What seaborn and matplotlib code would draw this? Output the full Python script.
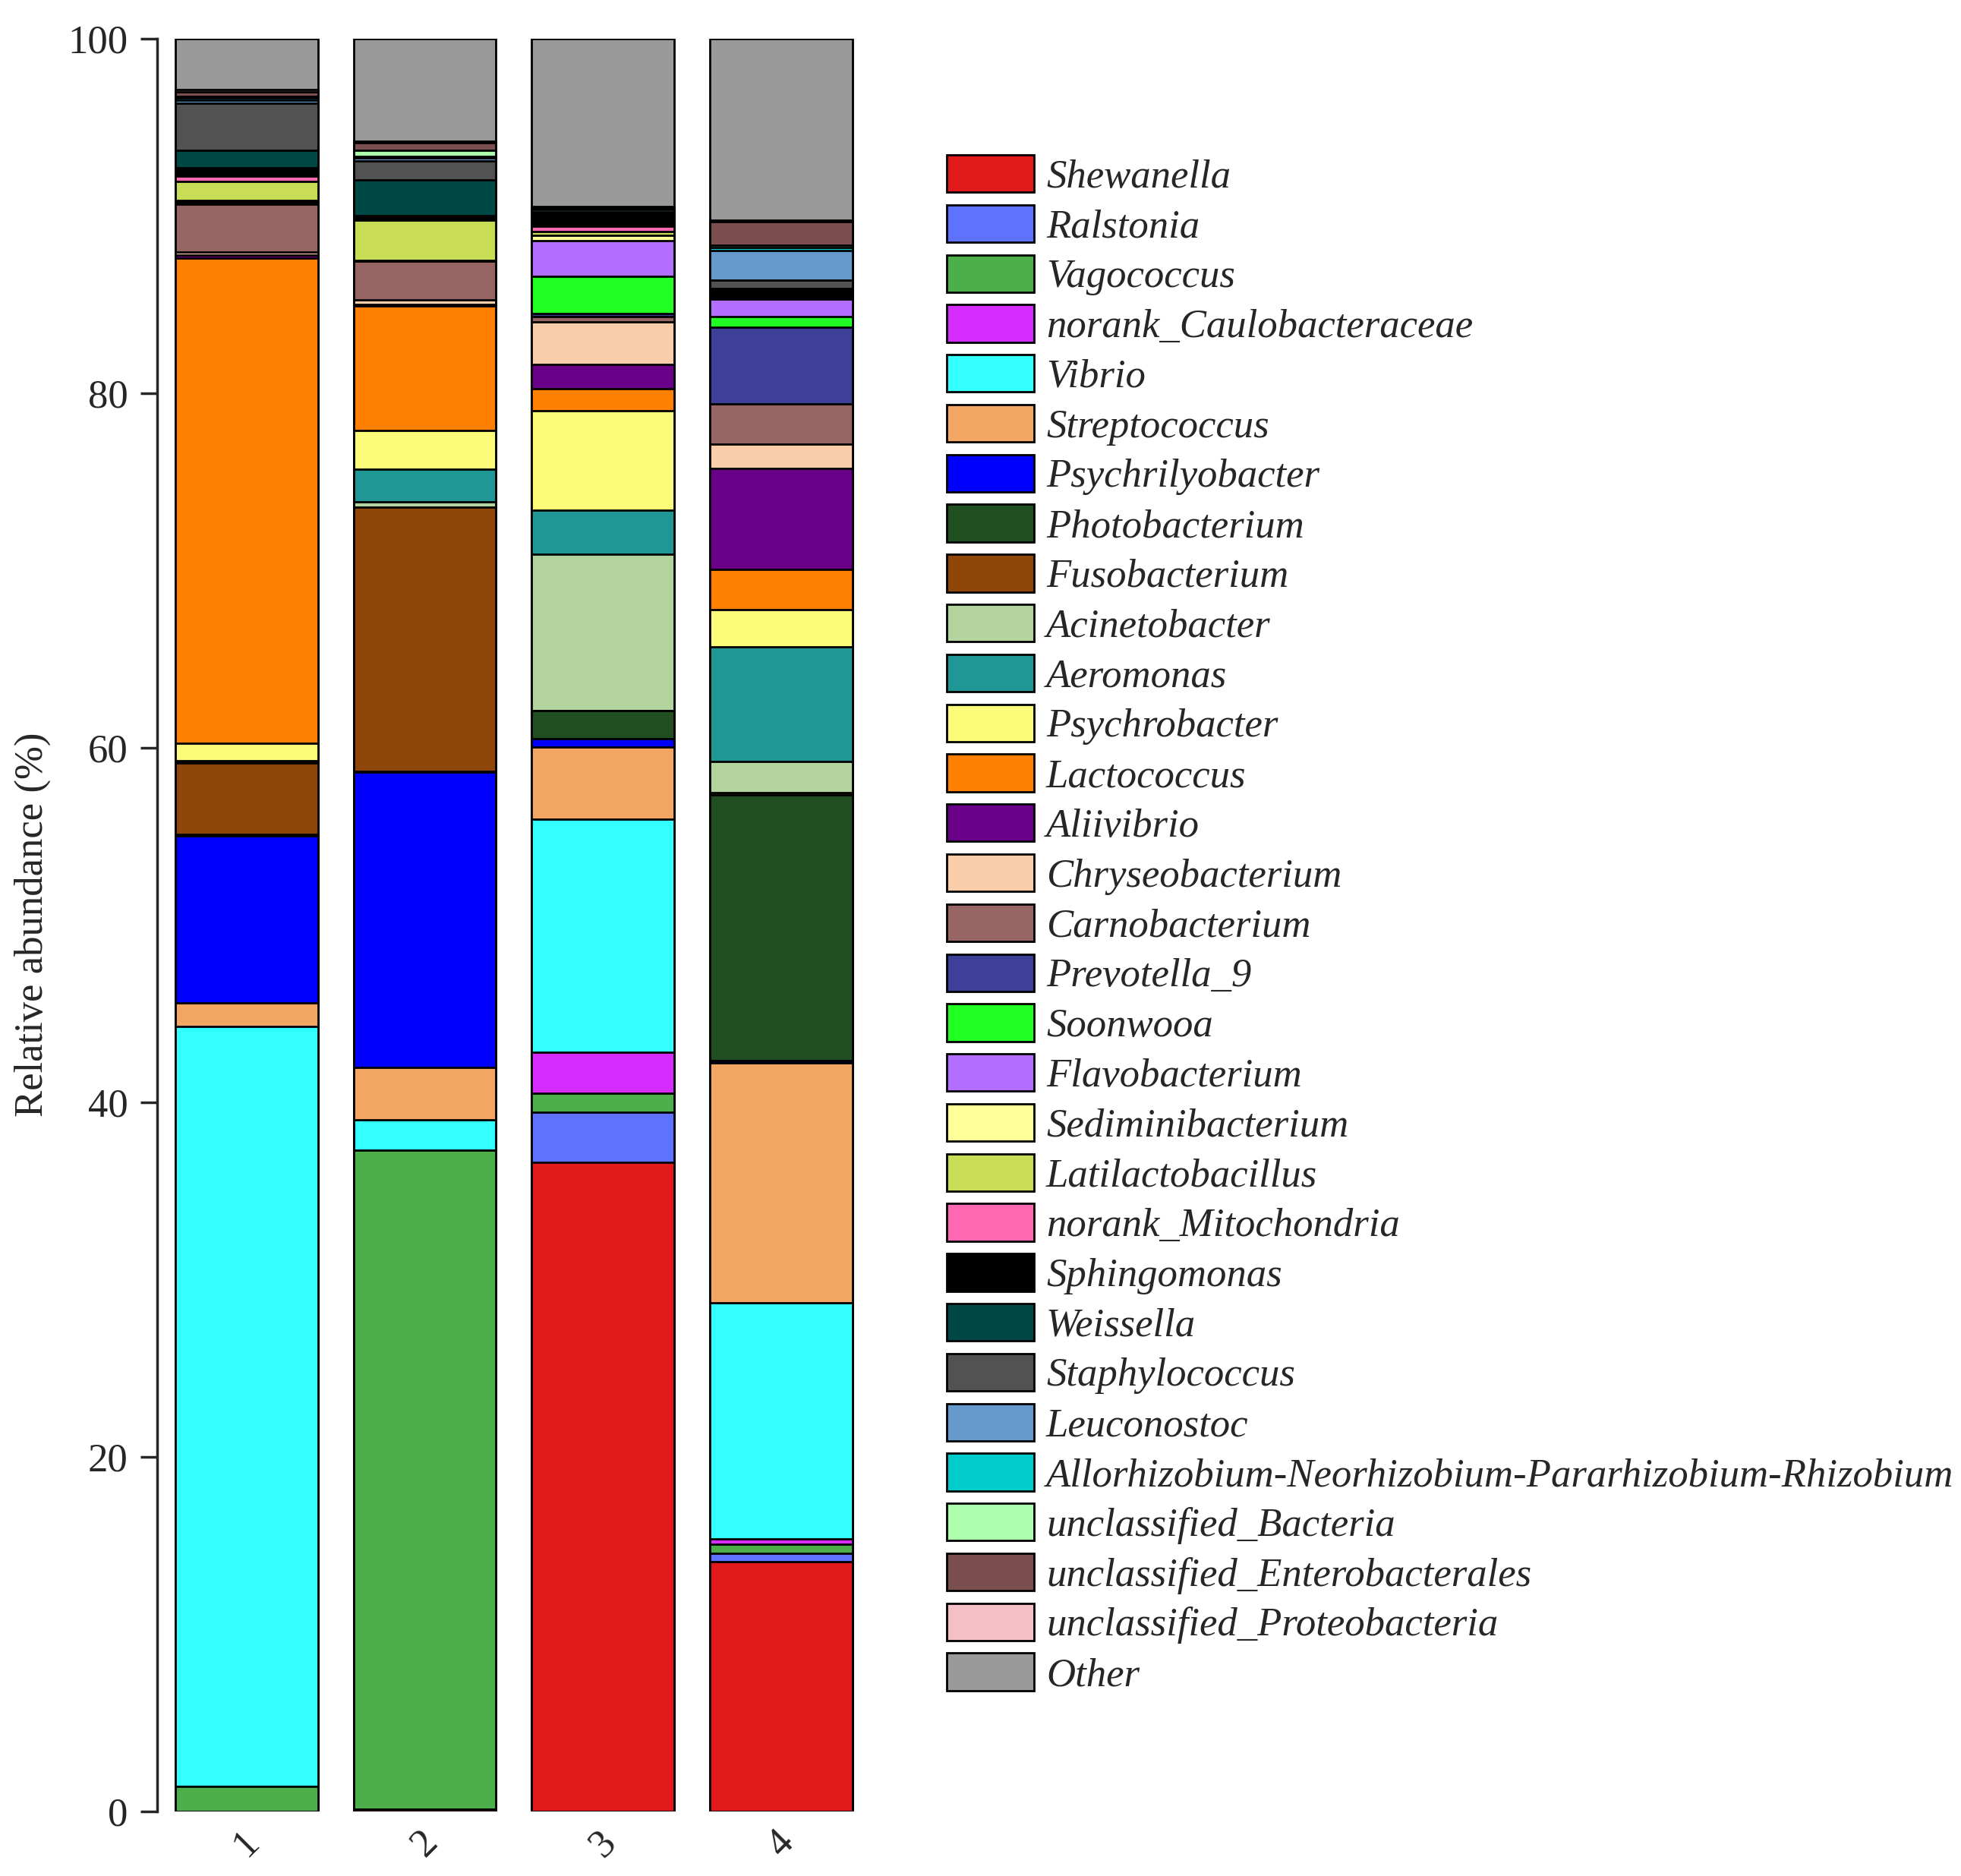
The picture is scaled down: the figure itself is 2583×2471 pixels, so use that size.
import numpy as np
import pandas as pd
import matplotlib
matplotlib.use("Agg")
import matplotlib.pyplot as plt
from matplotlib.patches import Patch
import seaborn as sns

## samples and taxa (stacked bottom -> top, legend top -> bottom)
samples = ["1", "2", "3", "4"]

taxa = ["Shewanella", "Ralstonia", "Vagococcus", "norank_Caulobacteraceae",
        "Vibrio", "Streptococcus", "Psychrilyobacter", "Photobacterium",
        "Fusobacterium", "Acinetobacter", "Aeromonas", "Psychrobacter",
        "Lactococcus", "Aliivibrio", "Chryseobacterium", "Carnobacterium",
        "Prevotella_9", "Soonwooa", "Flavobacterium", "Sediminibacterium",
        "Latilactobacillus", "norank_Mitochondria", "Sphingomonas", "Weissella",
        "Staphylococcus", "Leuconostoc",
        "Allorhizobium-Neorhizobium-Pararhizobium-Rhizobium",
        "unclassified_Bacteria", "unclassified_Enterobacterales",
        "unclassified_Proteobacteria", "Other"]

colors = ["#E31A1C", "#5E72FF", "#4DAF4A", "#D62DFF",
          "#33FFFF", "#F4A665", "#0000FF", "#214E21",
          "#8F4609", "#B4D49F", "#1F9795", "#FCFC7A",
          "#FF8000", "#6A0088", "#FACDAA", "#976563",
          "#3E3F99", "#22FF22", "#B36FFF", "#FFFF99",
          "#C8DD55", "#FF69B4", "#000000", "#004846",
          "#525252", "#6699CC", "#00CCCC",
          "#ADFFAD", "#7B4F4F", "#F5C0C5", "#999999"]

# relative abundance (%) per sample, same order as taxa
sample_1 = [0.0, 0.0, 1.4, 0.0, 42.85, 1.35, 9.4, 0.1, 4.05, 0.05, 0.05, 1.0,
            27.35, 0.2, 0.15, 2.7, 0.05, 0.05, 0.05, 0.05, 1.1, 0.3, 0.45, 1.0,
            2.65, 0.15, 0.15, 0.1, 0.25, 0.1, 2.9]
sample_2 = [0.1, 0.0, 37.2, 0.0, 1.7, 2.95, 16.65, 0.05, 14.9, 0.3, 1.85, 2.2,
            7.0, 0.1, 0.25, 2.2, 0.0, 0.0, 0.0, 0.05, 2.25, 0.05, 0.2, 2.0,
            1.1, 0.15, 0.1, 0.35, 0.4, 0.1, 5.8]
sample_3 = [36.6, 2.85, 1.05, 2.3, 13.15, 4.1, 0.45, 1.6, 0.0, 8.8, 2.5, 5.6,
            1.25, 1.35, 2.4, 0.3, 0.2, 2.1, 2.0, 0.3, 0.2, 0.3, 0.6, 0.05,
            0.05, 0.05, 0.05, 0.15, 0.1, 0.05, 9.5]
sample_4 = [14.1, 0.45, 0.5, 0.3, 13.35, 13.5, 0.15, 15.0, 0.1, 1.75, 6.5, 2.1,
            2.25, 5.7, 1.35, 2.3, 4.3, 0.6, 1.0, 0.05, 0.05, 0.0, 0.4, 0.1,
            0.45, 1.7, 0.15, 0.15, 1.3, 0.1, 10.25]

df = pd.DataFrame({"1": sample_1, "2": sample_2, "3": sample_3, "4": sample_4},
                  index=taxa)
cum = df.cumsum()

sns.set_style("ticks")
plt.rcParams['font.family'] = ['Liberation Serif', 'DejaVu Serif']

fig = plt.figure(figsize=(25.83, 24.71), dpi=100)
ax = fig.add_axes([0.0803, 0.0345, 0.3634, 0.945])

## stacked bars: draw cumulative totals from the top layer down
for i in range(len(taxa) - 1, -1, -1):
    sns.barplot(x=samples, y=cum.iloc[i].values, color=colors[i], saturation=1,
                width=0.8, edgecolor="black", linewidth=2, errorbar=None, ax=ax)

ax.set_xlim(-0.5, 3.5)
ax.set_ylim(0, 100)
ax.set_yticks([0, 20, 40, 60, 80, 100])
for s in ["top", "right", "bottom"]:
    ax.spines[s].set_visible(False)
ax.spines["left"].set_linewidth(2.5)
ax.spines["left"].set_bounds(0, 100)
ax.tick_params(axis="y", length=16, width=2.5, labelsize=38, pad=12)
ax.tick_params(axis="x", length=0, labelsize=38, pad=12)
plt.setp(ax.get_xticklabels(), rotation=45)
ax.set_ylabel("Relative abundance (%)", fontsize=38, labelpad=16)
ax.set_xlabel("")

handles = [Patch(facecolor=c, edgecolor="black", linewidth=2, label=t)
           for t, c in zip(taxa, colors)]
fig.legend(handles=handles, loc="upper left", bbox_to_anchor=(0.4828, 1 - 204 / 2471),
           frameon=False, prop={"family": "Liberation Serif", "style": "italic", "size": 38},
           handlelength=2.18, handleheight=1.06, handletextpad=0.3, labelspacing=0.23,
           borderpad=0, borderaxespad=0)

fig.savefig("out.png", dpi=100)
